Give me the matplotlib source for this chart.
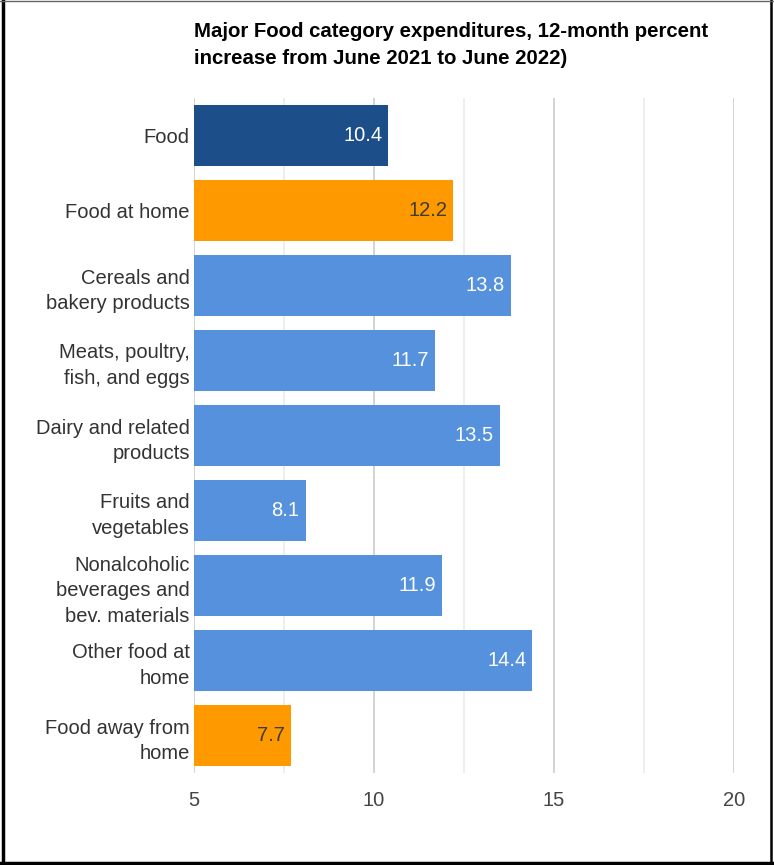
import matplotlib.pyplot as plt
from matplotlib.lines import Line2D
from matplotlib.ticker import MultipleLocator

plt.rcParams['font.family'] = ['Liberation Sans', 'DejaVu Sans']

categories = ["Food", "Food at home", "Cereals and\nbakery products",
              "Meats, poultry,\nfish, and eggs", "Dairy and related\nproducts",
              "Fruits and\nvegetables", "Nonalcoholic\nbeverages and\nbev. materials",
              "Other food at\nhome", "Food away from\nhome"]
values = [10.4, 12.2, 13.8, 11.7, 13.5, 8.1, 11.9, 14.4, 7.7]
colors = ["#1c4e89", "#ff9900", "#5591dc", "#5591dc", "#5591dc",
          "#5591dc", "#5591dc", "#5591dc", "#ff9900"]
label_colors = ["white", "#3c3c3c", "white", "white", "white",
                "white", "white", "white", "#3c3c3c"]
xticks = [5, 10, 15, 20]

fig = plt.figure(figsize=(7.74, 8.65), dpi=100)
ax = fig.add_axes([194 / 774, 1 - 773 / 865, 540 / 774, 675 / 865])

ypos = list(range(len(categories)))
ax.barh(ypos, [v - 5 for v in values], left=5, height=0.81, color=colors, zorder=3)
for y, v, c in zip(ypos, values, label_colors):
    ax.text(v - 0.17, y, f"{v}", ha="right", va="center", color=c, fontsize=14.5, zorder=4)

ax.set_xlim(5, 20)
ax.set_ylim(8.5, -0.5)
ax.set_yticks(ypos)
ax.set_yticklabels(categories, fontsize=14.5, color="#333333", linespacing=1.45)
ax.set_xticks(xticks)
ax.set_xticklabels([str(t) for t in xticks], fontsize=14.5, color="#444444")
ax.xaxis.set_minor_locator(MultipleLocator(2.5))
ax.tick_params(axis="both", which="both", length=0)
ax.tick_params(axis="x", pad=13)
ax.tick_params(axis="y", pad=3)
ax.grid(axis="x", which="major", color="#cccccc", linewidth=1.2, zorder=0)
ax.grid(axis="x", which="minor", color="#ebebeb", linewidth=1.2, zorder=0)
for s in ax.spines.values():
    s.set_visible(False)

fig.text(194 / 774, 1 - 22 / 865, "Major Food category expenditures, 12-month percent\nincrease from June 2021 to June 2022)",
         ha="left", va="top", fontsize=14.7, fontweight="bold", color="black", linespacing=1.5)

# frame around the picture
W, H = 774, 865
fig.add_artist(Line2D([2.5 / W, 2.5 / W], [0, 1], transform=fig.transFigure, color="black", lw=2.5))
fig.add_artist(Line2D([0, 1], [2.5 / H, 2.5 / H], transform=fig.transFigure, color="black", lw=2.5))
fig.add_artist(Line2D([771 / W, 771 / W], [0, 1], transform=fig.transFigure, color="black", lw=1.8))
fig.add_artist(Line2D([0, 1], [1 - 0.5 / H, 1 - 0.5 / H], transform=fig.transFigure, color="#666666", lw=1))

fig.savefig("out.png", dpi=100, facecolor="white")
